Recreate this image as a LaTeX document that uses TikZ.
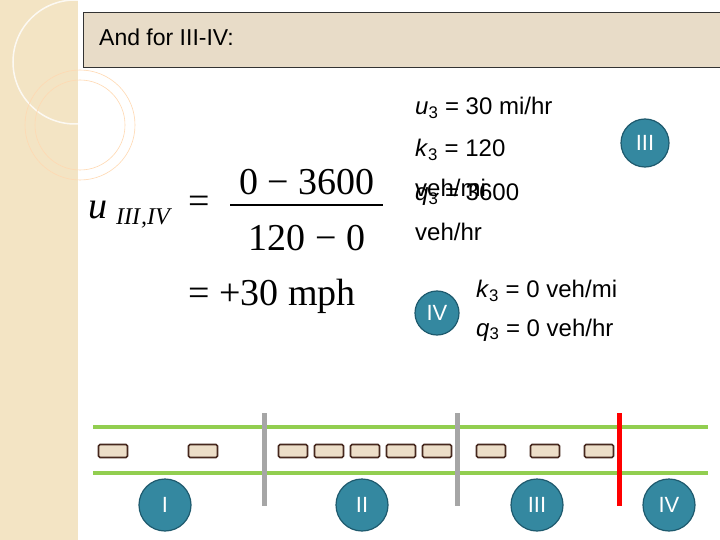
\documentclass[tikz,border=0pt]{standalone}
\usepackage{fontspec}
\setmainfont{Liberation Serif}
\setsansfont{Liberation Sans}
\definecolor{teal1}{RGB}{52,136,160}
\definecolor{teal2}{RGB}{30,90,110}
\definecolor{strip}{RGB}{243,228,196}
\definecolor{titlef}{RGB}{232,220,200}
\definecolor{carf}{RGB}{236,222,200}
\definecolor{card}{RGB}{70,40,30}
\definecolor{road}{RGB}{146,206,80}
\begin{document}
\begin{tikzpicture}[x=1pt,y=-1pt,
  car/.style={draw=card,fill=carf,line width=1.6pt,rounded corners=1.5pt,minimum width=29pt,minimum height=13pt,inner sep=0pt},
  zone/.style={circle,draw=teal2,fill=teal1,line width=1.2pt,minimum size=52pt,inner sep=0pt,text=white,font=\sffamily\fontsize{22}{22}\selectfont},
  green/.style={draw=road,line width=4.5pt},
  txt/.style={anchor=west,inner sep=0pt,font=\sffamily\fontsize{24}{24}\selectfont},
  mth/.style={inner sep=0pt,font=\fontsize{38}{38}\selectfont}]
\useasboundingbox (0,0) rectangle (720,540);
\fill[white] (0,0) rectangle (720,540);
\fill[strip] (0,0) rectangle (78,540);
\draw[white,line width=1.5pt,opacity=.8] (75,62) circle (62);
\draw[orange!30!white,line width=.6pt] (80,125) circle (55);
\draw[orange!30!white,line width=.6pt] (80,125) circle (45);
\node[draw=black!80,fill=titlef,line width=.8pt,minimum width=637pt,minimum height=55pt,anchor=north west] (title) at (83,12) {};
\node[txt,font=\sffamily\fontsize{23}{23}\selectfont] (tt) at (99,37) {And for III-IV:};
\node[mth,anchor=west] (uu) at (88,210) {\textit{u}};
\node[mth,anchor=west,font=\itshape\fontsize{24}{24}\selectfont] (sub) at (116,218) {III\/,IV};
\node[mth,anchor=west] (eqs) at (188,205) {=};
\node[mth] (num) at (307,182) {0 − 3600};
\node[mth] (den) at (307,238) {120 − 0};
\draw[line width=1.2pt] (230,205) -- (383,205);
\node[mth,anchor=west] (eq2) at (188,296) {= +30 mph};
\node[txt] (u3) at (415,108) {\textit{u}\textsubscript{3} = 30 mi/hr};
\node[txt] (k3) at (415,150) {\textit{k}\textsubscript{3} = 120};
\node[txt] (vm) at (415,188) {veh/mi};
\node[txt] (q3) at (415,195) {\textit{q}\textsubscript{3} = 3600};
\node[txt] (vh) at (415,232) {veh/hr};
\node[zone,minimum size=48pt] (c3) at (645,143) {III};
\node[zone,minimum size=44pt] (c4) at (437,313) {IV};
\node[txt] (k0) at (476,291) {\textit{k}\textsubscript{3} = 0 veh/mi};
\node[txt] (q0) at (476,330) {\textit{q}\textsubscript{3} = 0 veh/hr};
\coordinate (a1) at (93,427); \coordinate (a2) at (708,427);
\coordinate (b1) at (93,473); \coordinate (b2) at (708,473);
\draw[green] (a1) -- (a2); \draw[green] (b1) -- (b2);
\foreach \x in {264,457}{\draw[gray!70,line width=5pt] (\x,413) -- (\x,506);}
\draw[red,line width=5pt] (619,413) -- (619,506);
\foreach \x [count=\i] in {113,203,293,329,365,401,437,491,545,599}{\node[car] (car\i) at (\x,451) {};}
\node[zone] (z1) at (165,505) {I};
\node[zone] (z2) at (362,505) {II};
\node[zone] (z3) at (537,505) {III};
\node[zone] (z4) at (669,505) {IV};
\end{tikzpicture}
\end{document}
